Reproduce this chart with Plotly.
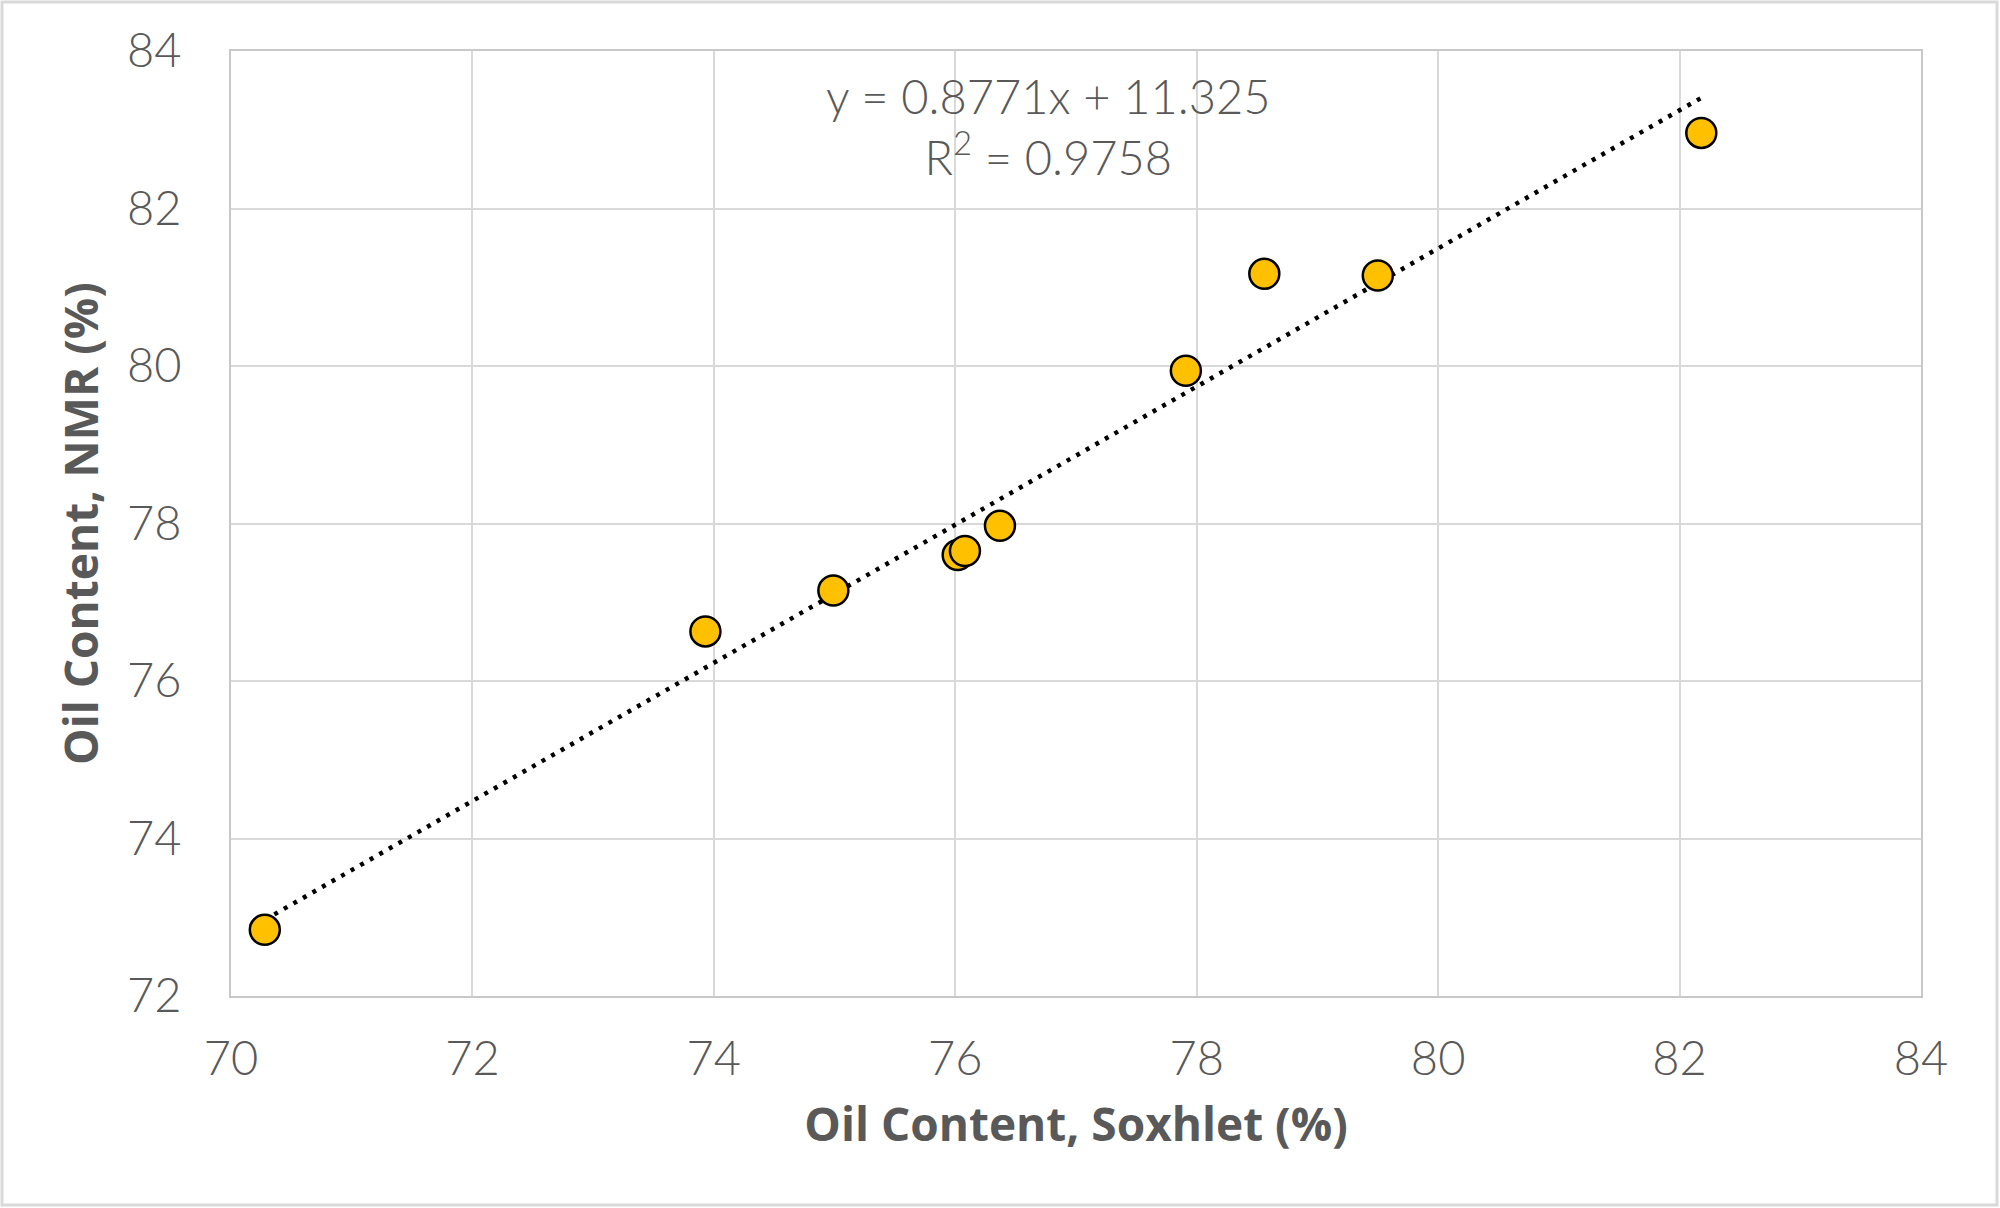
import plotly.graph_objects as go

# Data
soxhlet = [70.28, 73.93, 74.99, 76.02, 76.08, 76.37, 77.91, 78.56, 79.50, 82.18]
nmr = [72.84, 76.63, 77.15, 77.60, 77.65, 77.97, 79.94, 81.17, 81.15, 82.96]
trend_slope = 0.8771
trend_intercept = 11.325
r_squared = 0.9758
x_ticks = [70, 72, 74, 76, 78, 80, 82, 84]
y_ticks = [72, 74, 76, 78, 80, 82, 84]

TEXT = "#595959"
GRID = "#d9d9d9"
FONT = "Lato Light, Lato"
TITLE_FONT = "Open Sans"

x_trend = [min(soxhlet), max(soxhlet)]
y_trend = [trend_slope * v + trend_intercept for v in x_trend]

fig = go.Figure()
fig.add_trace(go.Scatter(
    x=x_trend, y=y_trend, mode="lines",
    line=dict(color="black", width=4.5, dash="4px,7px"),
    hoverinfo="skip", showlegend=False,
))
fig.add_trace(go.Scatter(
    x=soxhlet, y=nmr, mode="markers",
    marker=dict(size=30, color="#FFC000", line=dict(color="black", width=2.5)),
    showlegend=False,
))

fig.update_layout(
    width=2000, height=1208,
    margin=dict(l=231, r=79, t=51, b=212),
    paper_bgcolor="white", plot_bgcolor="white",
    font=dict(family=FONT, color=TEXT, size=46),
    showlegend=False,
)
fig.update_xaxes(
    range=[70, 84], tickvals=x_ticks, ticktext=[str(v) for v in x_ticks],
    showgrid=True, gridcolor=GRID, gridwidth=2,
    showline=True, linecolor="#c8c8c8", linewidth=2, mirror=True,
    zeroline=False, ticks="", ticklabelstandoff=21,
    tickfont=dict(family=FONT, size=47, color=TEXT),
    title=dict(text="<b>Oil Content, Soxhlet (%)</b>", standoff=24,
               font=dict(family=TITLE_FONT, size=46, color=TEXT)),
)
fig.update_yaxes(
    range=[72, 84], tickvals=y_ticks, ticktext=[str(v) for v in y_ticks],
    showgrid=True, gridcolor=GRID, gridwidth=2,
    showline=True, linecolor="#c8c8c8", linewidth=2, mirror=True,
    zeroline=False, ticks="", ticklabelstandoff=38,
    tickfont=dict(family=FONT, size=47, color=TEXT),
    title=dict(text="<b>Oil Content, NMR (%)</b>", standoff=14,
               font=dict(family=TITLE_FONT, size=46, color=TEXT)),
)

fig.add_annotation(
    x=76.77, y=83.04, xref="x", yref="y", showarrow=False,
    text=f"y = {trend_slope}x + {trend_intercept}<br>R<sup>2</sup> = {r_squared}",
    font=dict(family=FONT, size=47, color=TEXT),
    xanchor="center", yanchor="middle", align="center",
)

# outer chart border
fig.add_shape(
    type="rect", xref="paper", yref="paper",
    x0=(2 - 231) / 1690, x1=(1997 - 231) / 1690,
    y0=(996 - 1205) / 945, y1=(996 - 2) / 945,
    line=dict(color=GRID, width=3), fillcolor="rgba(0,0,0,0)", layer="below",
)

fig.write_html("out.html", config={"displayModeBar": False},
               post_script="document.body.style.margin='0';")
